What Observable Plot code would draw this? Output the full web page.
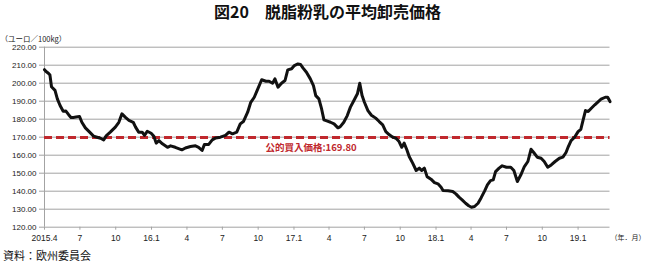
<!DOCTYPE html>
<html>
<head>
<meta charset="utf-8">
<script src="https://cdn.jsdelivr.net/npm/d3@7"></script>
<script src="https://cdn.jsdelivr.net/npm/@observablehq/plot@0.6"></script>
<style>
  html, body { margin: 0; padding: 0; background: #fff; }
  #wrap { width: 646px; font-family: 'Liberation Sans', 'Noto Sans CJK JP', sans-serif; }
  #title { height: 22px; line-height: 22px; font-family: 'Noto Sans CJK JP', sans-serif; font-weight: bold; font-size: 16px; color: #111; padding-left: 214px; white-space: nowrap; overflow: visible; }
  #caption { height: 12px; line-height: 12px; font-family: 'Noto Sans CJK JP', sans-serif; font-size: 11px; color: #111; padding-left: 3px; white-space: nowrap; }
  svg { display: block; }
</style>
</head>
<body>
<div id="wrap">
  <div id="title">図20　脱脂粉乳の平均卸売価格</div>
  <div id="chart"></div>
  <div id="caption">資料：欧州委員会</div>
</div>
<script>
const dates = [
"2015-04-01","2015-04-05","2015-04-11","2015-04-15","2015-04-19","2015-04-28","2015-05-04","2015-05-11","2015-05-19","2015-05-26",
"2015-06-02","2015-06-08","2015-06-14","2015-06-21","2015-06-30","2015-07-06","2015-07-15","2015-07-26","2015-08-05","2015-08-14",
"2015-08-23","2015-08-31","2015-09-07","2015-09-17","2015-09-30","2015-10-09","2015-10-17","2015-10-26","2015-11-04","2015-11-15",
"2015-11-21","2015-11-29","2015-12-08","2015-12-14","2015-12-21","2015-12-31","2016-01-07","2016-01-13","2016-01-20","2016-01-29",
"2016-02-11","2016-02-19","2016-03-02","2016-03-19","2016-03-28","2016-04-10","2016-04-23","2016-05-01","2016-05-10","2016-05-16",
"2016-05-27","2016-06-05","2016-06-14","2016-06-26","2016-07-09","2016-07-18","2016-07-27","2016-08-07","2016-08-16","2016-08-24",
"2016-09-04","2016-09-12","2016-09-21","2016-09-29","2016-10-10","2016-10-21","2016-10-29","2016-11-07","2016-11-13","2016-11-21",
"2016-11-30","2016-12-09","2016-12-16","2016-12-26","2017-01-02","2017-01-11","2017-01-18","2017-01-24","2017-02-02","2017-02-12",
"2017-02-20","2017-02-26","2017-03-06","2017-03-13","2017-03-19","2017-03-28","2017-04-05","2017-04-14","2017-04-24","2017-04-30",
"2017-05-09","2017-05-18","2017-05-26","2017-06-04","2017-06-13","2017-06-19","2017-06-25","2017-07-01","2017-07-10","2017-07-19",
"2017-07-30","2017-08-08","2017-08-17","2017-08-25","2017-09-03","2017-09-12","2017-09-20","2017-09-28","2017-10-05","2017-10-11",
"2017-10-18","2017-10-24","2017-11-02","2017-11-11","2017-11-19","2017-11-25","2017-12-02","2017-12-09","2017-12-19","2017-12-28",
"2018-01-06","2018-01-14","2018-01-19","2018-02-01","2018-02-13","2018-02-21","2018-03-01","2018-03-09","2018-03-18","2018-03-26",
"2018-04-02","2018-04-10","2018-04-19","2018-04-27","2018-05-06","2018-05-13","2018-05-21","2018-05-28","2018-06-03","2018-06-12",
"2018-06-20","2018-07-01","2018-07-12","2018-07-20","2018-07-29","2018-08-07","2018-08-16","2018-08-25","2018-09-02","2018-09-09",
"2018-09-18","2018-09-28","2018-10-06","2018-10-15","2018-10-24","2018-11-03","2018-11-14","2018-11-23","2018-12-01","2018-12-07",
"2018-12-14","2018-12-23","2019-01-01","2019-01-08","2019-01-14","2019-01-20","2019-01-27","2019-02-04","2019-02-13","2019-02-22",
"2019-03-01","2019-03-12","2019-03-18","2019-03-24"
];
const prices = [
207.5,206.5,205.5,204.5,198,196,191.3,187.6,184.4,184.5,
182.5,181,181,181.2,181.5,178.3,175.2,172.8,170.6,170,
169.4,168.5,170.9,172.8,175.6,178.3,183,181,179.3,178.3,
175.6,172.8,172.8,171,173.3,172.2,170.5,166.7,168.1,166.3,
164.4,165.2,164.4,163,164,164.8,165.2,164.4,162.6,166,
166,168.5,169.6,170,171,172.8,171.9,172.8,177.4,178.7,
183.9,189.4,192.2,196.3,201.9,201.1,201.1,200,202.4,197.8,
200,201.5,207.4,208,209.8,210.7,210.4,208.5,206.1,202.4,
198.7,193.1,191.3,185.7,179.6,178.9,178.3,177.4,175.2,175.9,
178.3,182,186.7,190.4,194.1,200,193.1,189.4,184.8,182.2,
180.6,178.7,176.9,173.1,171.3,170,169.4,167.6,164.4,166.7,
163,159.3,155.6,151.5,152.8,151.5,152.8,148.1,146.7,144.8,
144.1,142.2,140.4,140.2,139.8,138.5,136.7,135.2,133.3,131.9,
131.1,131.5,133.3,136.4,140.2,143.5,145.9,146.3,150.9,152.8,
154.1,153.3,153.3,151.5,145.4,149.1,153.7,156.5,163.3,161.5,
158.9,158.3,156.5,153.3,154.6,156.5,158.3,158.9,161.5,164.8,
168.1,170,173.1,174.4,179.6,184.8,184.3,186.1,188,189.8,
191.1,192.2,192.2,189.8
];
const tickDates = ["2015-04-01","2015-07-01","2015-10-01","2016-01-01","2016-04-01","2016-07-01","2016-10-01","2017-01-01",
  "2017-04-01","2017-07-01","2017-10-01","2018-01-01","2018-04-01","2018-07-01","2018-10-01","2019-01-01"];
const tickLabels = ["2015.4","7","10","16.1","4","7","10","17.1","4","7","10","18.1","4","7","10","19.1"];
const yTicks = [120,130,140,150,160,170,180,190,200,210,220];
const buyPrice = 169.80;
const buyLabel = "公的買入価格:169.80";
const buyLabelDate = "2017-02-14";
const yUnit = "（ユーロ／100kg）";
const xUnit = "（年．月）";
const xDomain = ["2015-04-01", "2019-03-24"];

const data = dates.map((d, i) => ({date: new Date(d), price: prices[i]}));
const tickDateObjs = tickDates.map(d => new Date(d));
const labelByTime = new Map(tickDateObjs.map((d, i) => [+d, tickLabels[i]]));

const grey = "#a3a3a3";
const red = "#c0282d";

const chart = Plot.plot({
  width: 646,
  height: 227,
  marginLeft: 44,
  marginRight: 36.5,
  marginTop: 24.7,
  marginBottom: 22.3,
  style: {fontFamily: "'Liberation Sans', 'Noto Sans CJK JP', sans-serif", background: "#fff", color: "#222"},
  x: {type: "utc", domain: xDomain.map(d => new Date(d))},
  y: {domain: [120, 220]},
  marks: [
    Plot.gridY(yTicks, {stroke: grey, strokeOpacity: 1, strokeWidth: 1}),
    Plot.ruleX([new Date(xDomain[0])], {stroke: grey, strokeWidth: 1}),
    Plot.axisY(yTicks, {tickFormat: d => d.toFixed(2), tickSize: 5, tickPadding: 3, fontSize: 8, stroke: grey, fill: "#222", label: null}),
    Plot.axisX(tickDateObjs, {tickFormat: d => labelByTime.get(+d), tickSize: 3, tickPadding: 5, fontSize: 8.5, stroke: grey, fill: "#222", label: null}),
    Plot.ruleY([buyPrice], {stroke: red, strokeWidth: 3, strokeDasharray: "8,4"}),
    Plot.line(data, {x: "date", y: "price", stroke: "#111", strokeWidth: 3, strokeLinejoin: "round", strokeLinecap: "round"}),
    Plot.text([buyLabel], {x: () => new Date(buyLabelDate), y: () => buyPrice, dy: 10, fill: red, fontSize: 9.5, fontWeight: "bold", fontFamily: "'Noto Sans CJK JP', sans-serif"}),
    Plot.text([yUnit], {frameAnchor: "top-left", dx: -44, dy: -11, textAnchor: "start", fontSize: 7.5, fill: "#222", fontFamily: "'Noto Sans CJK JP', sans-serif"}),
    Plot.text([xUnit], {frameAnchor: "bottom-right", dx: 35.5, dy: 13, textAnchor: "end", fontSize: 7, fill: "#222", fontFamily: "'Noto Sans CJK JP', sans-serif"})
  ]
});
document.getElementById("chart").appendChild(chart);
</script>
</body>
</html>
